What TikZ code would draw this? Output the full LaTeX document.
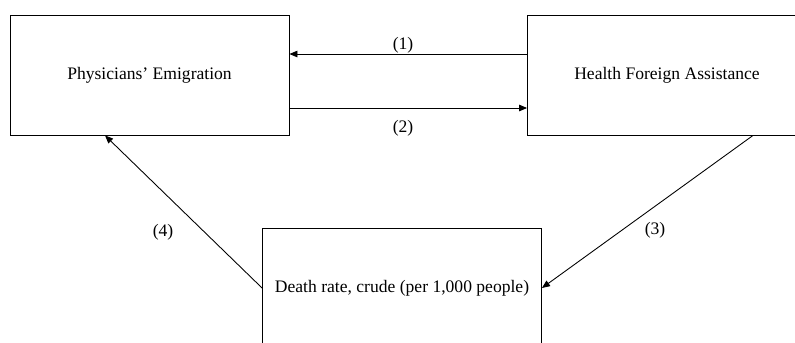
\documentclass[tikz,border=0pt]{standalone}
\usepackage{fontspec}
\setmainfont{Liberation Serif}
\usetikzlibrary{arrows.meta}
\tikzset{
  varbox/.style={draw, line width=0.6pt, minimum width=6.696cm, minimum height=2.88cm, inner sep=0pt, font=\fontsize{12}{14}\selectfont},
  link/.style={-{Triangle[length=5.5pt,width=4.5pt]}, line width=0.6pt},
  tag/.style={font=\fontsize{12}{14}\selectfont, inner sep=0pt}
}
\begin{document}
\begin{tikzpicture}[x=0.024cm,y=-0.024cm]
                \clip (0,0) rectangle (795,342);
                \node[varbox] (emig) at (149.5,75) {Physicians' Emigration};
                \node[varbox] (aid) at (667,75) {Health Foreign Assistance};
                \node[varbox] (death) at (402,288) {Death rate, crude (per 1,000 people)};

                \draw[link] ([yshift=0.504cm]aid.west) -- ([yshift=0.504cm]emig.east);
                \draw[link] ([yshift=-0.792cm]emig.east) -- ([yshift=-0.792cm]aid.west);
                \draw[link] ([xshift=2.064cm]aid.south) -- (death.east);
                \draw[link] (death.west) -- ([xshift=-1.068cm]emig.south);

                \node[tag] (lone) at (403,45) {(1)};
                \node[tag] (ltwo) at (403,128) {(2)};
                \node[tag] (lthree) at (655,230) {(3)};
                \node[tag] (lfour) at (163,232) {(4)};
            \end{tikzpicture}
\end{document}
